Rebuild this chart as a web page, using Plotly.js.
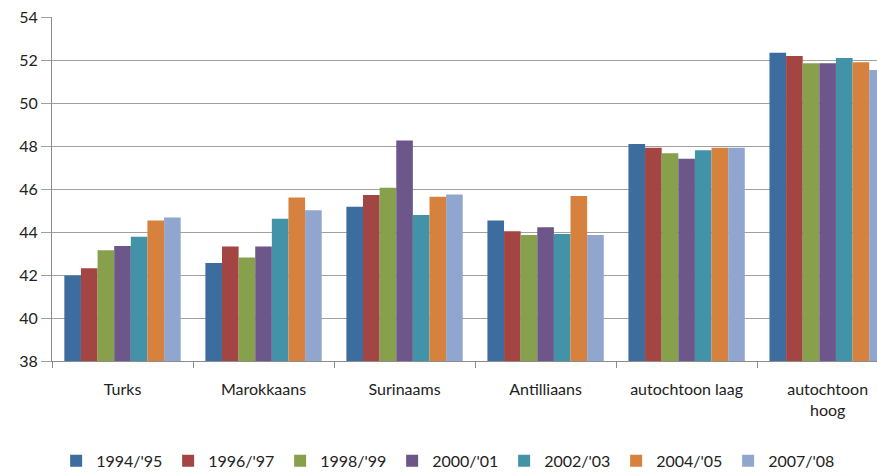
<!DOCTYPE html>
<html>
<head>
<meta charset="utf-8">
<script src="https://cdn.plot.ly/plotly-3.0.1.min.js"></script>
<style>html,body{margin:0;padding:0;background:#fff;}#chart{width:877px;height:472px;}</style>
</head>
<body>
<div id="chart"></div>
<script>
const categories = ["Turks", "Marokkaans", "Surinaams", "Antilliaans", "autochtoon laag", "autochtoon<br>hoog"];
const seriesNames = ["1994/'95", "1996/'97", "1998/'99", "2000/'01", "2002/'03", "2004/'05", "2007/'08"];
const s1994 = [41.98, 42.56, 45.18, 44.54, 48.09, 52.34];
const s1996 = [42.31, 43.32, 45.72, 44.03, 47.92, 52.19];
const s1998 = [43.15, 42.81, 46.06, 43.86, 47.66, 51.85];
const s2000 = [43.35, 43.32, 48.26, 44.22, 47.41, 51.85];
const s2002 = [43.78, 44.62, 44.79, 43.91, 47.80, 52.09];
const s2004 = [44.54, 45.60, 45.64, 45.67, 47.92, 51.89];
const s2007 = [44.67, 45.01, 45.75, 43.86, 47.92, 51.53];
const yTicks = [38, 40, 42, 44, 46, 48, 50, 52, 54];

const allSeries = [s1994, s1996, s1998, s2000, s2002, s2004, s2007];
const colors = ["#3D6D9E", "#A34542", "#87A04C", "#6D5689", "#4293A8", "#D6813D", "#91A6CE"];

const traces = allSeries.map((vals, i) => ({
  type: "bar",
  name: seriesNames[i],
  x: categories,
  y: vals.map(v => v - 38),
  base: 38,
  marker: {color: colors[i], line: {width: 0}},
  hoverinfo: "y+name"
}));

const font = "Lato, 'Open Sans', sans-serif";
const layout = {
  width: 877, height: 472,
  margin: {l: 52, r: 0, t: 17, b: 111, autoexpand: false},
  paper_bgcolor: "#fff", plot_bgcolor: "#fff",
  barmode: "group", bargap: 0.175, bargroupgap: 0,
  font: {family: font, size: 16, color: "#222"},
  showlegend: true,
  legend: {orientation: "h", x: 0.005, xanchor: "left", y: -0.29, yanchor: "middle",
           entrywidth: 67, entrywidthmode: "pixels", font: {family: font, size: 16, color: "#222"},
           traceorder: "normal", itemclick: false},
  xaxis: {
    type: "category", range: [-0.5, 5.35], automargin: false,
    showline: true, linecolor: "#8c8c8c", linewidth: 1,
    ticks: "outside", tickson: "boundaries", ticklen: 6, tickcolor: "#8c8c8c",
    showgrid: false, ticklabelstandoff: 14,
    tickfont: {family: font, size: 16, color: "#222"}
  },
  yaxis: {
    range: [38, 54], tickvals: yTicks, ticktext: yTicks.map(String), automargin: false,
    showline: true, linecolor: "#8c8c8c", linewidth: 1,
    ticks: "outside", ticklen: 10, tickcolor: "#a0a0a0",
    showgrid: true, gridcolor: "#a0a0a0", gridwidth: 1, zeroline: false,
    tickfont: {family: font, size: 16, color: "#222"}
  }
};

Plotly.newPlot("chart", traces, layout, {displayModeBar: false, staticPlot: true});
</script>
</body>
</html>
